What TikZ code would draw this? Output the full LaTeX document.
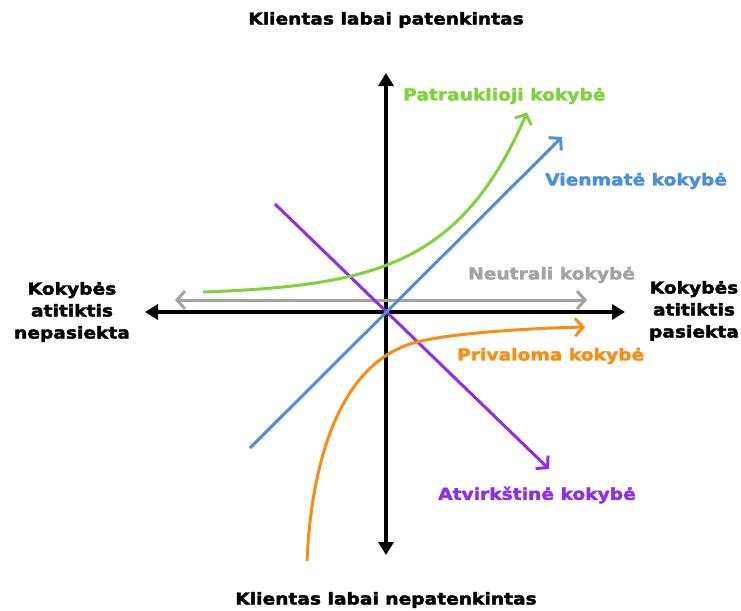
\documentclass[tikz,border=0pt]{standalone}
\usepackage{fontspec}
\setmainfont{DejaVu Sans}[BoldFeatures={FakeBold=2.2,FakeStretch=1.13}]
\usetikzlibrary{arrows.meta}
\definecolor{cgreen}{HTML}{7ED33A}
\definecolor{cblue}{HTML}{4A8EDF}
\definecolor{cpurple}{HTML}{8E2EEA}
\definecolor{corange}{HTML}{FA8C14}
\definecolor{cgray}{HTML}{A3A3A3}
\begin{document}
\begin{tikzpicture}[x=1pt,y=-1pt,
  axis/.style={line width=3.4pt,-{Triangle[length=13pt,width=15pt]}},
  barb/.tip={Straight Barb[length=8pt,width=18pt,line width=3pt]},
  curve/.style={line width=3pt,-barb},
  lbl/.style={font=\bfseries\fontsize{16.5}{22}\selectfont,inner sep=0pt},
  side/.style={lbl,align=center}]
\useasboundingbox (0,0) rectangle (741,610);
% axes
\coordinate (O) at (386,312);
\coordinate (yt) at (386,73);
\coordinate (yb) at (386,555);
\coordinate (xl) at (145,312);
\coordinate (xr) at (625,312);
\draw[axis] (O) -- (yt);
\draw[axis] (O) -- (yb);
\draw[axis] (O) -- (xl);
\draw[axis] (O) -- (xr);
% neutral
\coordinate (nl) at (175,300);
\coordinate (nr) at (587,300);
\draw[curve,cgray,barb-barb] (nl) -- (nr);
% reverse
\coordinate (ps) at (275,204);
\coordinate (pe) at (549,469);
\draw[curve,cpurple] (ps) -- (pe);
% one-dimensional
\coordinate (bs) at (250,448);
\coordinate (be) at (562,137);
\draw[curve,cblue] (bs) -- (be);
% attractive
\draw[curve,cgreen] plot[domain=203:527,samples=80,smooth]
  (\x,{292-2.755*(exp(0.01294*(\x-203))-1)});
% must-be
\coordinate (os) at (307,561);
\coordinate (om) at (417,342);
\coordinate (oe) at (585,327);
\draw[curve,corange] (os) .. controls (312,450) and (345,360) .. (om)
  .. controls (457,332) and (540,328) .. (oe);
% labels
\node[lbl] (top) at (386,20) {Klientas labai patenkintas};
\node[lbl] (bot) at (386,600) {Klientas labai nepatenkintas};
\node[side] (left) at (72,312) {Kokybės\\atitiktis\\nepasiekta};
\node[side] (right) at (694,311) {Kokybės\\atitiktis\\pasiekta};
\node[lbl,text=cgreen,anchor=west] (lg) at (403,96) {Patrauklioji kokybė};
\node[lbl,text=cblue,anchor=west] (lb) at (545,181) {Vienmatė kokybė};
\node[lbl,text=cgray,anchor=west] (ln) at (468,275) {Neutrali kokybė};
\node[lbl,text=corange,anchor=west] (lo) at (457,356) {Privaloma kokybė};
\node[lbl,text=cpurple,anchor=west] (lp) at (438,495) {Atvirkštinė kokybė};
\end{tikzpicture}
\end{document}
